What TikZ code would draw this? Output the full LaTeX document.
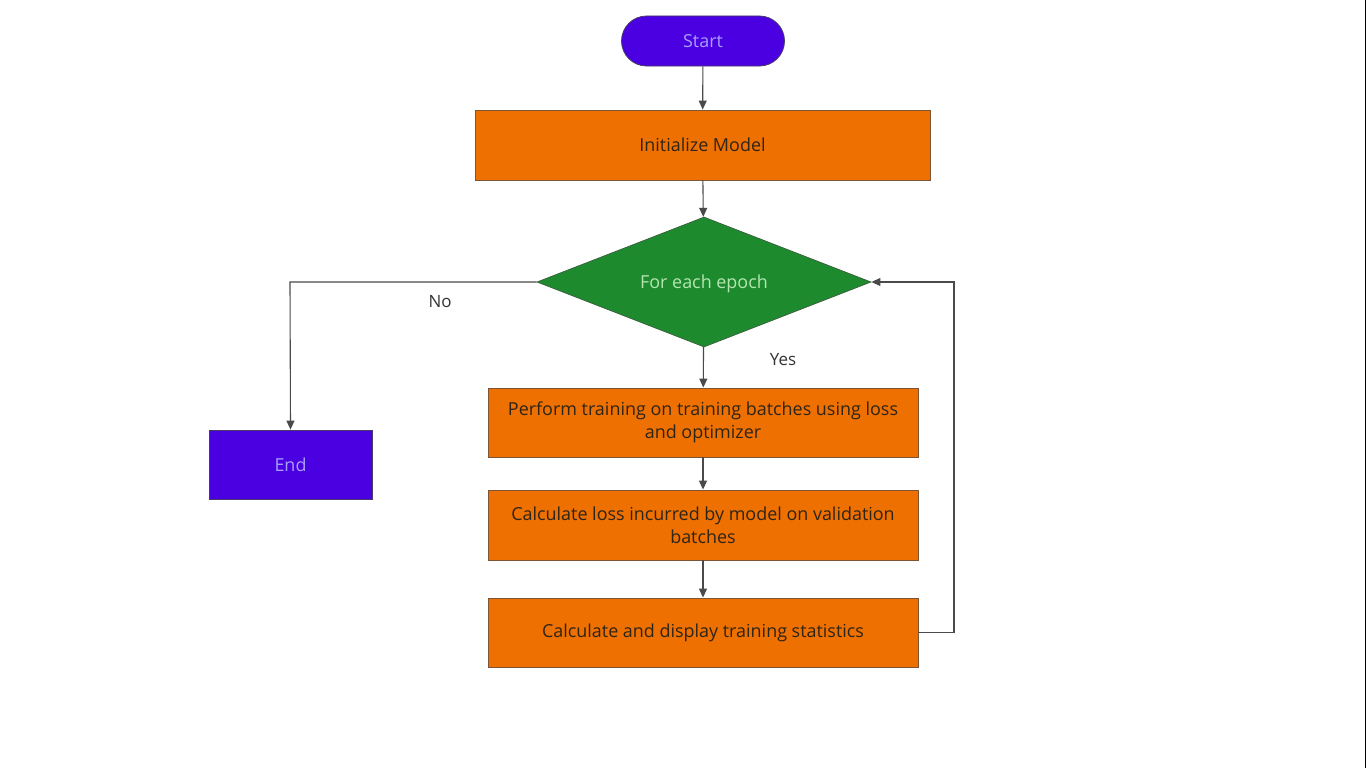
\documentclass[tikz,border=0pt]{standalone}
\usepackage{fontspec}
\setmainfont{Open Sans}
\usetikzlibrary{shapes.geometric,arrows.meta}
\definecolor{purp}{HTML}{4A00E0}
\definecolor{purptext}{HTML}{A99EFF}
\definecolor{orng}{HTML}{EE7000}
\definecolor{grn}{HTML}{1E8A2E}
\definecolor{grntext}{HTML}{B4E6B0}
\definecolor{edge}{HTML}{4A4A4A}
\definecolor{boxtext}{HTML}{2E2418}
\begin{document}
\begin{tikzpicture}[x=1bp,y=-1bp,
  every node/.style={font=\fontsize{18}{23}\selectfont, align=center, inner sep=0pt},
  term/.style={draw=edge!80!purp, line width=0.8bp, fill=purp, text=purptext, minimum width=163bp, minimum height=50bp},
  procbox/.style={draw=edge!70!orng, line width=0.9bp, fill=orng, text=boxtext, minimum width=430bp, minimum height=69bp},
  decide/.style={diamond, draw=edge!60!grn, line width=0.8bp, fill=grn, text=grntext, minimum width=334bp, minimum height=130bp},
  conn/.style={draw=edge, line width=1.1bp, -{Triangle[length=9bp,width=8bp]}},
  lbl/.style={text=black!80, font=\fontsize{17}{20}\selectfont}]
\useasboundingbox (0,0) rectangle (1366,768);
\fill[white] (0,0) rectangle (1366,768);
\fill[black] (1364.5,0) rectangle (1366,768);

\node[term, rounded corners=25bp] (start) at (703,41) {Start};
\node[procbox, minimum width=455bp, minimum height=70bp] (init) at (702.5,145) {Initialize Model};
\node[decide] (epoch) at (704,282) {\smash{\makebox[0pt]{\raisebox{-0.38em}{For each epoch}}}};
\node[term, rectangle, minimum height=69bp] (end) at (290.5,464.5) {End};
\node[procbox] (train) at (703,422.5) {Perform training on training batches using loss\\and optimizer};
\node[procbox, minimum height=70bp] (valid) at (703,525) {Calculate loss incurred by model on validation\\batches};
\node[procbox] (stats) at (703,632.5) {Calculate and display training statistics};

\coordinate (noturn) at (290,282);
\coordinate (loopa) at (954,632.5);
\coordinate (loopb) at (954,282);

\draw[conn] (start) -- (init);
\draw[conn] (init) -- (epoch);
\draw[conn] (epoch) -- (train);
\draw[conn] (train) -- (valid);
\draw[conn] (valid) -- (stats);
\draw[conn] (epoch.west) -- (noturn) -- (end.north);
\draw[conn] (stats.east) -- (loopa) -- (loopb) -- (epoch.east);

\node[lbl] (no) at (440,302) {No};
\node[lbl] (yes) at (783,360) {Yes};
\end{tikzpicture}
\end{document}
